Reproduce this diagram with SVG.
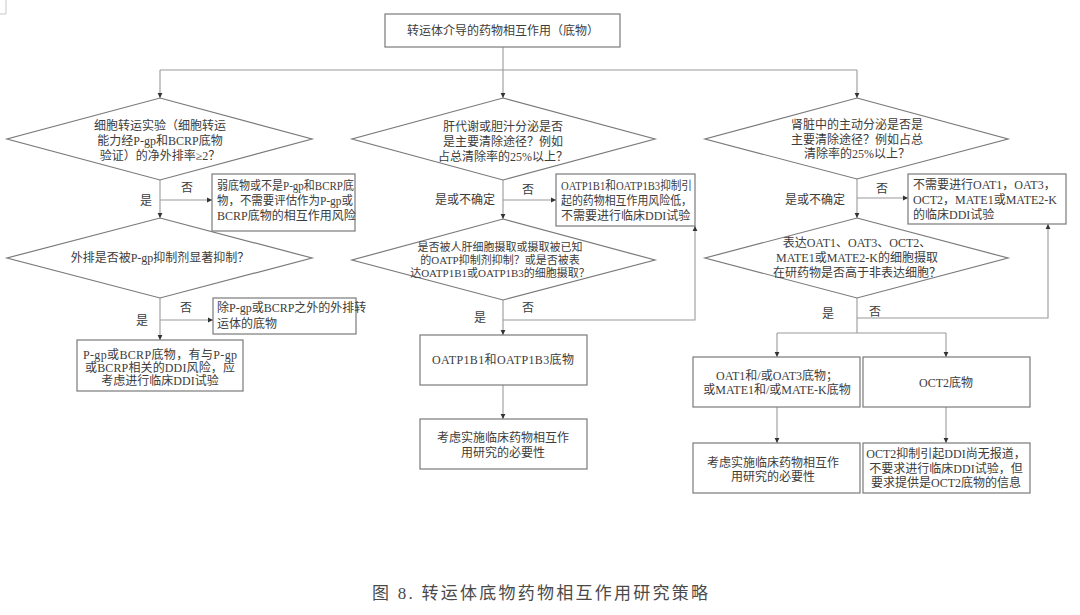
<svg xmlns="http://www.w3.org/2000/svg" width="1080" height="615" viewBox="0 0 1080 615">
<defs>
<marker id="arr" markerUnits="userSpaceOnUse" markerWidth="6" markerHeight="6" refX="5" refY="3" orient="auto">
<path d="M0,0.6 L5,3 L0,5.4 Z" fill="#333"/>
</marker>
<style>
.box{fill:#fff;stroke:#7a7a7a;stroke-width:1.2}
.dia{fill:#fff;stroke:#7a7a7a;stroke-width:1.2}
.c{fill:none;stroke:#9a9a9a;stroke-width:1.1}
.a{marker-end:url(#arr)}
text{font-family:"Liberation Serif","Noto Sans CJK SC",serif;font-size:12px;fill:#3c3c3c}
.m{text-anchor:middle}
.s{font-size:11px}
.cap{font-size:17px;fill:#4a4a4a}
</style>
</defs>
<rect width="1080" height="615" fill="#fff"/>
<path d="M6,0 V14 H0" fill="none" stroke="#c8c8c8" stroke-width="1"/>

<g id="connectors">
<line class="c a" x1="503" y1="47" x2="503" y2="98"/>
<line class="c" x1="160" y1="70" x2="857" y2="70"/>
<line class="c a" x1="160" y1="70" x2="160" y2="98"/>
<line class="c a" x1="857" y1="70" x2="857" y2="98"/>
<line class="c a" x1="160" y1="180" x2="160" y2="218"/>
<line class="c a" x1="160" y1="200" x2="212" y2="200"/>
<line class="c a" x1="160" y1="298" x2="160" y2="340"/>
<line class="c a" x1="160" y1="320" x2="213" y2="320"/>
<line class="c a" x1="503" y1="180" x2="503" y2="219"/>
<line class="c a" x1="503" y1="200" x2="556" y2="200"/>
<line class="c a" x1="503" y1="300" x2="503" y2="335"/>
<path class="c a" d="M503,320 H695 V226"/>
<line class="c a" x1="503" y1="385" x2="503" y2="419"/>
<line class="c a" x1="857" y1="179" x2="857" y2="218"/>
<line class="c a" x1="857" y1="198" x2="908" y2="198"/>
<line class="c" x1="857" y1="298" x2="857" y2="333"/>
<path class="c a" d="M857,318 H1048 V224"/>
<line class="c" x1="777" y1="333" x2="946" y2="333"/>
<line class="c a" x1="777" y1="333" x2="777" y2="357"/>
<line class="c a" x1="946" y1="333" x2="946" y2="357"/>
<line class="c a" x1="777" y1="407" x2="777" y2="443"/>
<line class="c a" x1="946" y1="407" x2="946" y2="443"/>
</g>

<g id="labels">
<text class="m" x="187" y="192">否</text>
<text class="m" x="146" y="205">是</text>
<text class="m" x="186" y="312">否</text>
<text class="m" x="142" y="325">是</text>
<text class="m" x="528" y="194">否</text>
<text class="m" x="465" y="204">是或不确定</text>
<text class="m" x="528" y="312">否</text>
<text class="m" x="480" y="322">是</text>
<text class="m" x="882" y="193">否</text>
<text class="m" x="815" y="204">是或不确定</text>
<text class="m" x="828" y="318">是</text>
<text class="m" x="875" y="316">否</text>
</g>

<g id="n-top">
<rect class="box" x="385" y="14" width="235" height="33"/>
<text class="m" x="503" y="35">转运体介导的药物相互作用（底物）</text>
</g>

<g id="n-d1">
<polygon class="dia" points="160,98 312,139 160,180 7,139"/>
<text class="m" x="160" y="130">细胞转运实验（细胞转运</text>
<text class="m" x="160" y="145">能力经P-gp和BCRP底物</text>
<text class="m" x="160" y="160">验证）的净外排率≥2？</text>
</g>

<g id="n-b1">
<rect class="box" x="212" y="174" width="143" height="57"/>
<text x="217" y="190" textLength="137" lengthAdjust="spacingAndGlyphs">弱底物或不是P-gp和BCRP底</text>
<text x="217" y="205" textLength="136" lengthAdjust="spacingAndGlyphs">物，不需要评估作为P-gp或</text>
<text x="217" y="220">BCRP底物的相互作用风险</text>
</g>

<g id="n-d2">
<polygon class="dia" points="160,218 312,258 160,298 7,258"/>
<text class="m" x="160" y="262">外排是否被P-gp抑制剂显著抑制？</text>
</g>

<g id="n-b2">
<rect class="box" x="213" y="298" width="143" height="36"/>
<text x="217" y="312">除P-gp或BCRP之外的外排转</text>
<text x="217" y="328">运体的底物</text>
</g>

<g id="n-b3">
<rect class="box" x="77" y="340" width="166" height="51"/>
<text class="m" x="160" y="359" textLength="154" lengthAdjust="spacing">P-gp或BCRP底物，有与P-gp</text>
<text class="m" x="160" y="372" textLength="150" lengthAdjust="spacing">或BCRP相关的DDI风险，应</text>
<text class="m" x="160" y="385">考虑进行临床DDI试验</text>
</g>

<g id="n-d3">
<polygon class="dia" points="503,98 655,139 503,180 352,139"/>
<text class="m" x="503" y="131">肝代谢或胆汁分泌是否</text>
<text class="m" x="503" y="146">是主要清除途径？例如</text>
<text class="m" x="503" y="161">占总清除率的25%以上？</text>
</g>

<g id="n-b4">
<rect class="box" x="556" y="174" width="139" height="52"/>
<text x="561" y="190" textLength="131" lengthAdjust="spacingAndGlyphs">OATP1B1和OATP1B3抑制引</text>
<text x="561" y="205" textLength="131" lengthAdjust="spacingAndGlyphs">起的药物相互作用风险低，</text>
<text x="561" y="220">不需要进行临床DDI试验</text>
</g>

<g id="n-d4">
<polygon class="dia" points="503,219 655,260 503,300 352,260"/>
<text class="m s" x="500" y="251">是否被人肝细胞摄取或摄取被已知</text>
<text class="m s" x="500" y="264">的OATP抑制剂抑制？或是否被表</text>
<text class="m s" x="500" y="277">达OATP1B1或OATP1B3的细胞摄取？</text>
</g>

<g id="n-b5">
<rect class="box" x="420" y="335" width="167" height="50"/>
<text class="m" x="503" y="364" textLength="142" lengthAdjust="spacing">OATP1B1和OATP1B3底物</text>
</g>

<g id="n-b6">
<rect class="box" x="420" y="419" width="167" height="50"/>
<text class="m" x="503" y="442">考虑实施临床药物相互作</text>
<text class="m" x="503" y="457">用研究的必要性</text>
</g>

<g id="n-d5">
<polygon class="dia" points="857,98 1008,139 857,179 705,139"/>
<text class="m" x="857" y="129">肾脏中的主动分泌是否是</text>
<text class="m" x="857" y="144">主要清除途径？例如占总</text>
<text class="m" x="857" y="158">清除率的25%以上？</text>
</g>

<g id="n-b7">
<rect class="box" x="908" y="174" width="158" height="50"/>
<text x="913" y="189">不需要进行OAT1，OAT3，</text>
<text x="913" y="204">OCT2，MATE1或MATE2-K</text>
<text x="913" y="219">的临床DDI试验</text>
</g>

<g id="n-d6">
<polygon class="dia" points="857,218 1008,258 857,298 705,258"/>
<text class="m" x="857" y="247">表达OAT1、OAT3、OCT2、</text>
<text class="m" x="857" y="262">MATE1或MATE2-K的细胞摄取</text>
<text class="m" x="857" y="277">在研药物是否高于非表达细胞？</text>
</g>

<g id="n-b8">
<rect class="box" x="693" y="357" width="167" height="50"/>
<text class="m" x="777" y="380">OAT1和/或OAT3底物；</text>
<text class="m" x="777" y="394">或MATE1和/或MATE-K底物</text>
</g>

<g id="n-b9">
<rect class="box" x="863" y="357" width="167" height="50"/>
<text class="m" x="946" y="387">OCT2底物</text>
</g>

<g id="n-b10">
<rect class="box" x="693" y="443" width="167" height="50"/>
<text class="m" x="773" y="467">考虑实施临床药物相互作</text>
<text class="m" x="773" y="481">用研究的必要性</text>
</g>

<g id="n-b11">
<rect class="box" x="863" y="443" width="167" height="50"/>
<text class="m" x="946" y="458">OCT2抑制引起DDI尚无报道，</text>
<text class="m" x="946" y="473">不要求进行临床DDI试验，但</text>
<text class="m" x="946" y="487">要求提供是OCT2底物的信息</text>
</g>

<text class="cap" x="372" y="599" textLength="336" lengthAdjust="spacing">图 8. 转运体底物药物相互作用研究策略</text>
</svg>
